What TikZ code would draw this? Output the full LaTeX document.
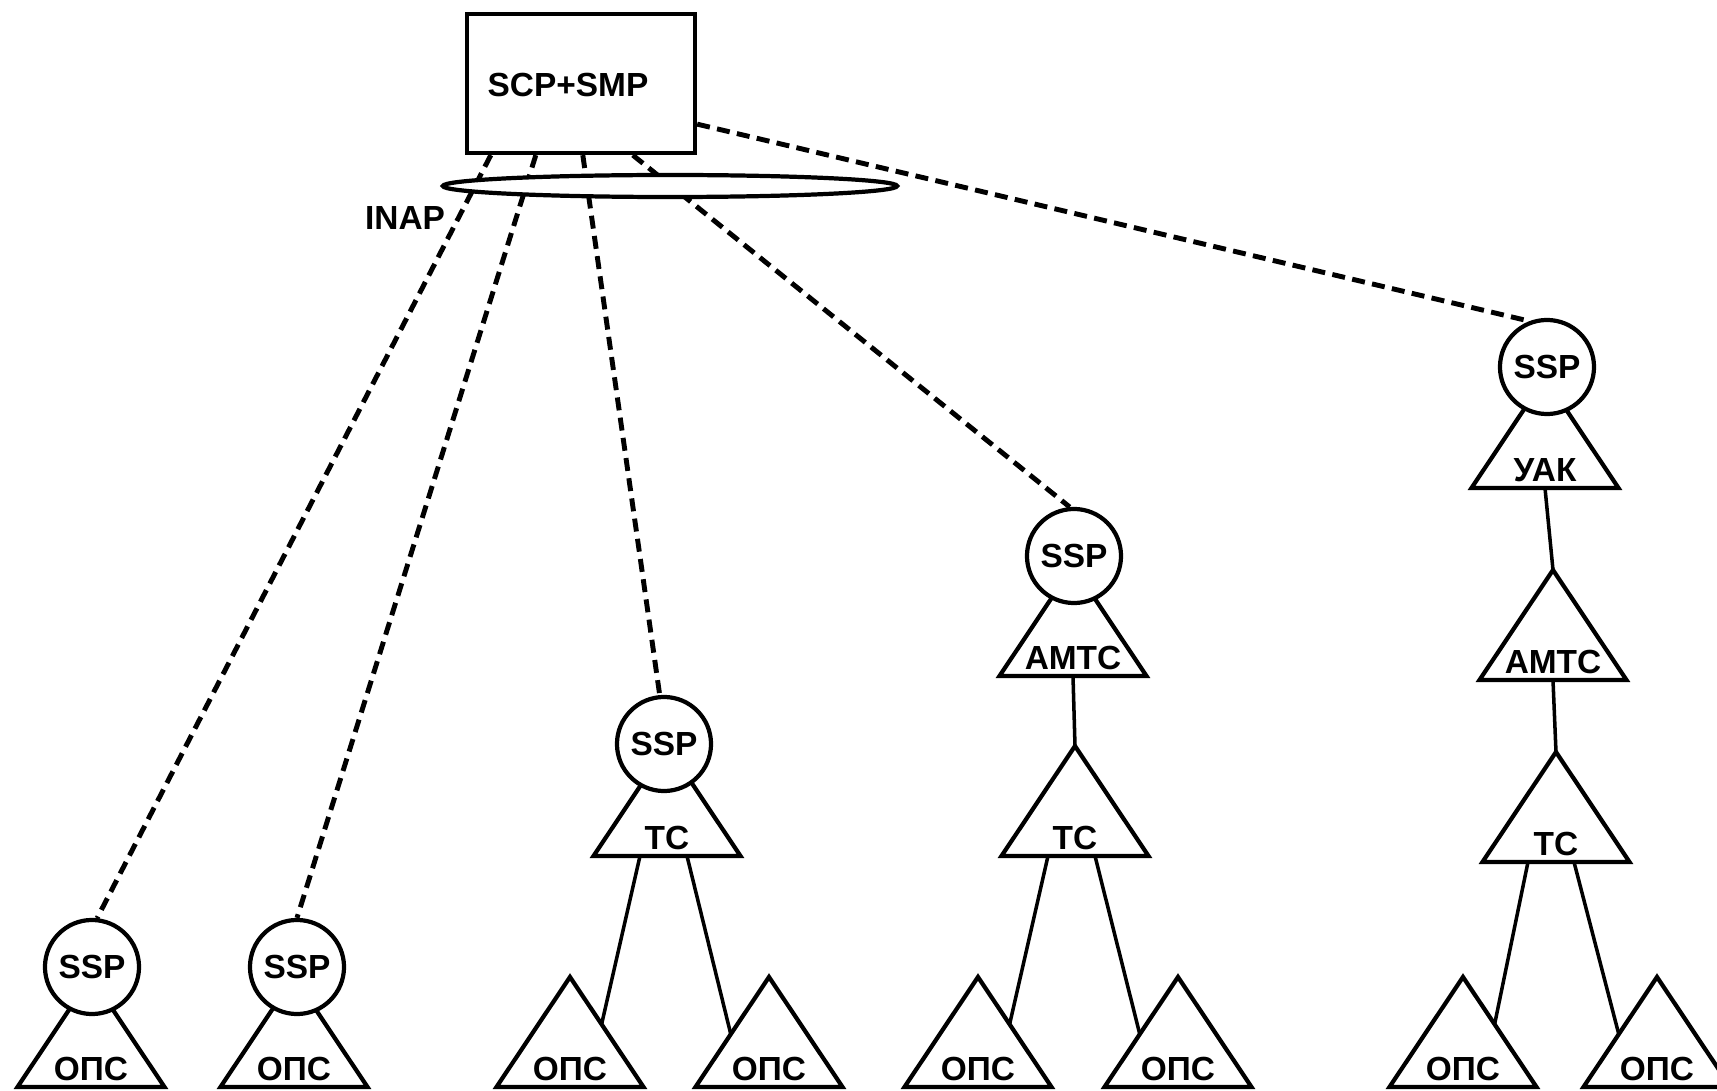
\documentclass[tikz,border=0pt]{standalone}
\usepackage{fontspec}
\setmainfont{Liberation Sans}
\usetikzlibrary{calc,shapes.geometric}

\tikzset{
  lab/.style={inner sep=0pt, font=\fontsize{9.5}{11}\selectfont\bfseries},
  tri/.style={draw, fill=white, line width=1.2pt, line join=miter},
  sspnode/.style={circle, draw, fill=white, line width=1.2pt,
    minimum size=0.94cm, inner sep=0pt, font=\fontsize{9.5}{11}\selectfont\bfseries},
  boxnode/.style={draw, fill=white, line width=1.2pt, inner sep=0pt,
    minimum width=2.28cm, minimum height=1.39cm},
  busnode/.style={ellipse, draw, fill=white, line width=1.2pt, inner sep=0pt,
    minimum width=4.54cm, minimum height=0.22cm},
  link/.style={line width=1pt},
  sig/.style={line width=1.4pt, dash pattern=on 3.7pt off 2.1pt},
}

% exchange triangle: #1 name, #2 x of base centre, #3 y of base, #4 label
\newcommand\trinode[4]{%
  \coordinate (#1-top) at (#2,#3-110);
  \coordinate (#1-l) at (#2-73.5,#3);
  \coordinate (#1-r) at (#2+73.5,#3);
  \coordinate (#1-b) at (#2,#3);
  \draw[tri] (#1-l) -- (#1-top) -- (#1-r) -- cycle;
  \node[lab] (#1) at (#2,#3-18) {#4};
}

\begin{document}
\begin{tikzpicture}[x=0.01cm,y=-0.01cm]
\clip (0,0) rectangle (1717,1091);
\fill[white] (0,0) rectangle (1717,1091);

% service control / management point
\node[boxnode] (scp) at (581,83.5) {};
\node[lab] (scplab) at (568,85) {SCP+SMP};
\node[lab] (inaplab) at (405,218) {INAP};

% column 1
\trinode{o1}{91}{1087}{ОПС}
\node[sspnode] (ssp1) at (92,967) {SSP};

% column 2
\trinode{o2}{294}{1087}{ОПС}
\node[sspnode] (ssp2) at (297,967) {SSP};

% column 3
\trinode{t3}{667}{856}{ТС}
\node[sspnode] (ssp3) at (664,744) {SSP};
\trinode{o3a}{570}{1087}{ОПС}
\trinode{o3b}{769}{1087}{ОПС}

% column 4
\trinode{a4}{1073}{676}{АМТС}
\node[sspnode] (ssp4) at (1074,556) {SSP};
\trinode{t4}{1075}{856}{ТС}
\trinode{o4a}{978}{1087}{ОПС}
\trinode{o4b}{1178}{1087}{ОПС}

% column 5
\trinode{u5}{1545}{488}{УАК}
\node[sspnode] (ssp5) at (1547,367) {SSP};
\trinode{a5}{1553}{680}{АМТС}
\trinode{t5}{1556}{862}{ТС}
\trinode{o5a}{1463}{1087}{ОПС}
\trinode{o5b}{1657}{1087}{ОПС}

% trunk links
\draw[link] (a4-b) -- (t4-top);
\draw[link] (u5-b) -- (a5-top);
\draw[link] (a5-b) -- (t5-top);
\draw[link] ($(t3-b)+(-27,0)$) -- ($(o3a-top)!0.43!(o3a-r)$);
\draw[link] ($(t3-b)+(20,0)$) -- ($(o3b-top)!0.52!(o3b-l)$);
\draw[link] ($(t4-b)+(-27,0)$) -- ($(o4a-top)!0.43!(o4a-r)$);
\draw[link] ($(t4-b)+(20,0)$) -- ($(o4b-top)!0.52!(o4b-l)$);
\draw[link] ($(t5-b)+(-28,0)$) -- ($(o5a-top)!0.43!(o5a-r)$);
\draw[link] ($(t5-b)+(18,0)$) -- ($(o5b-top)!0.52!(o5b-l)$);

% signalling links
\draw[sig] ($(scp.south west)+(26,0)$) -- (ssp1.84);
\draw[sig] ($(scp.south west)+(71,0)$) -- (ssp2.north);
\draw[sig] ($(scp.south west)+(118,0)$) -- (ssp3.95);
\draw[sig] ($(scp.south west)+(168,0)$) -- (ssp4.95);
\draw[sig] ($(scp.south east)+(0,-31)$) -- (ssp5.111);

% INAP bus
\node[busnode] (inap) at (670,186) {};
\end{tikzpicture}
\end{document}
